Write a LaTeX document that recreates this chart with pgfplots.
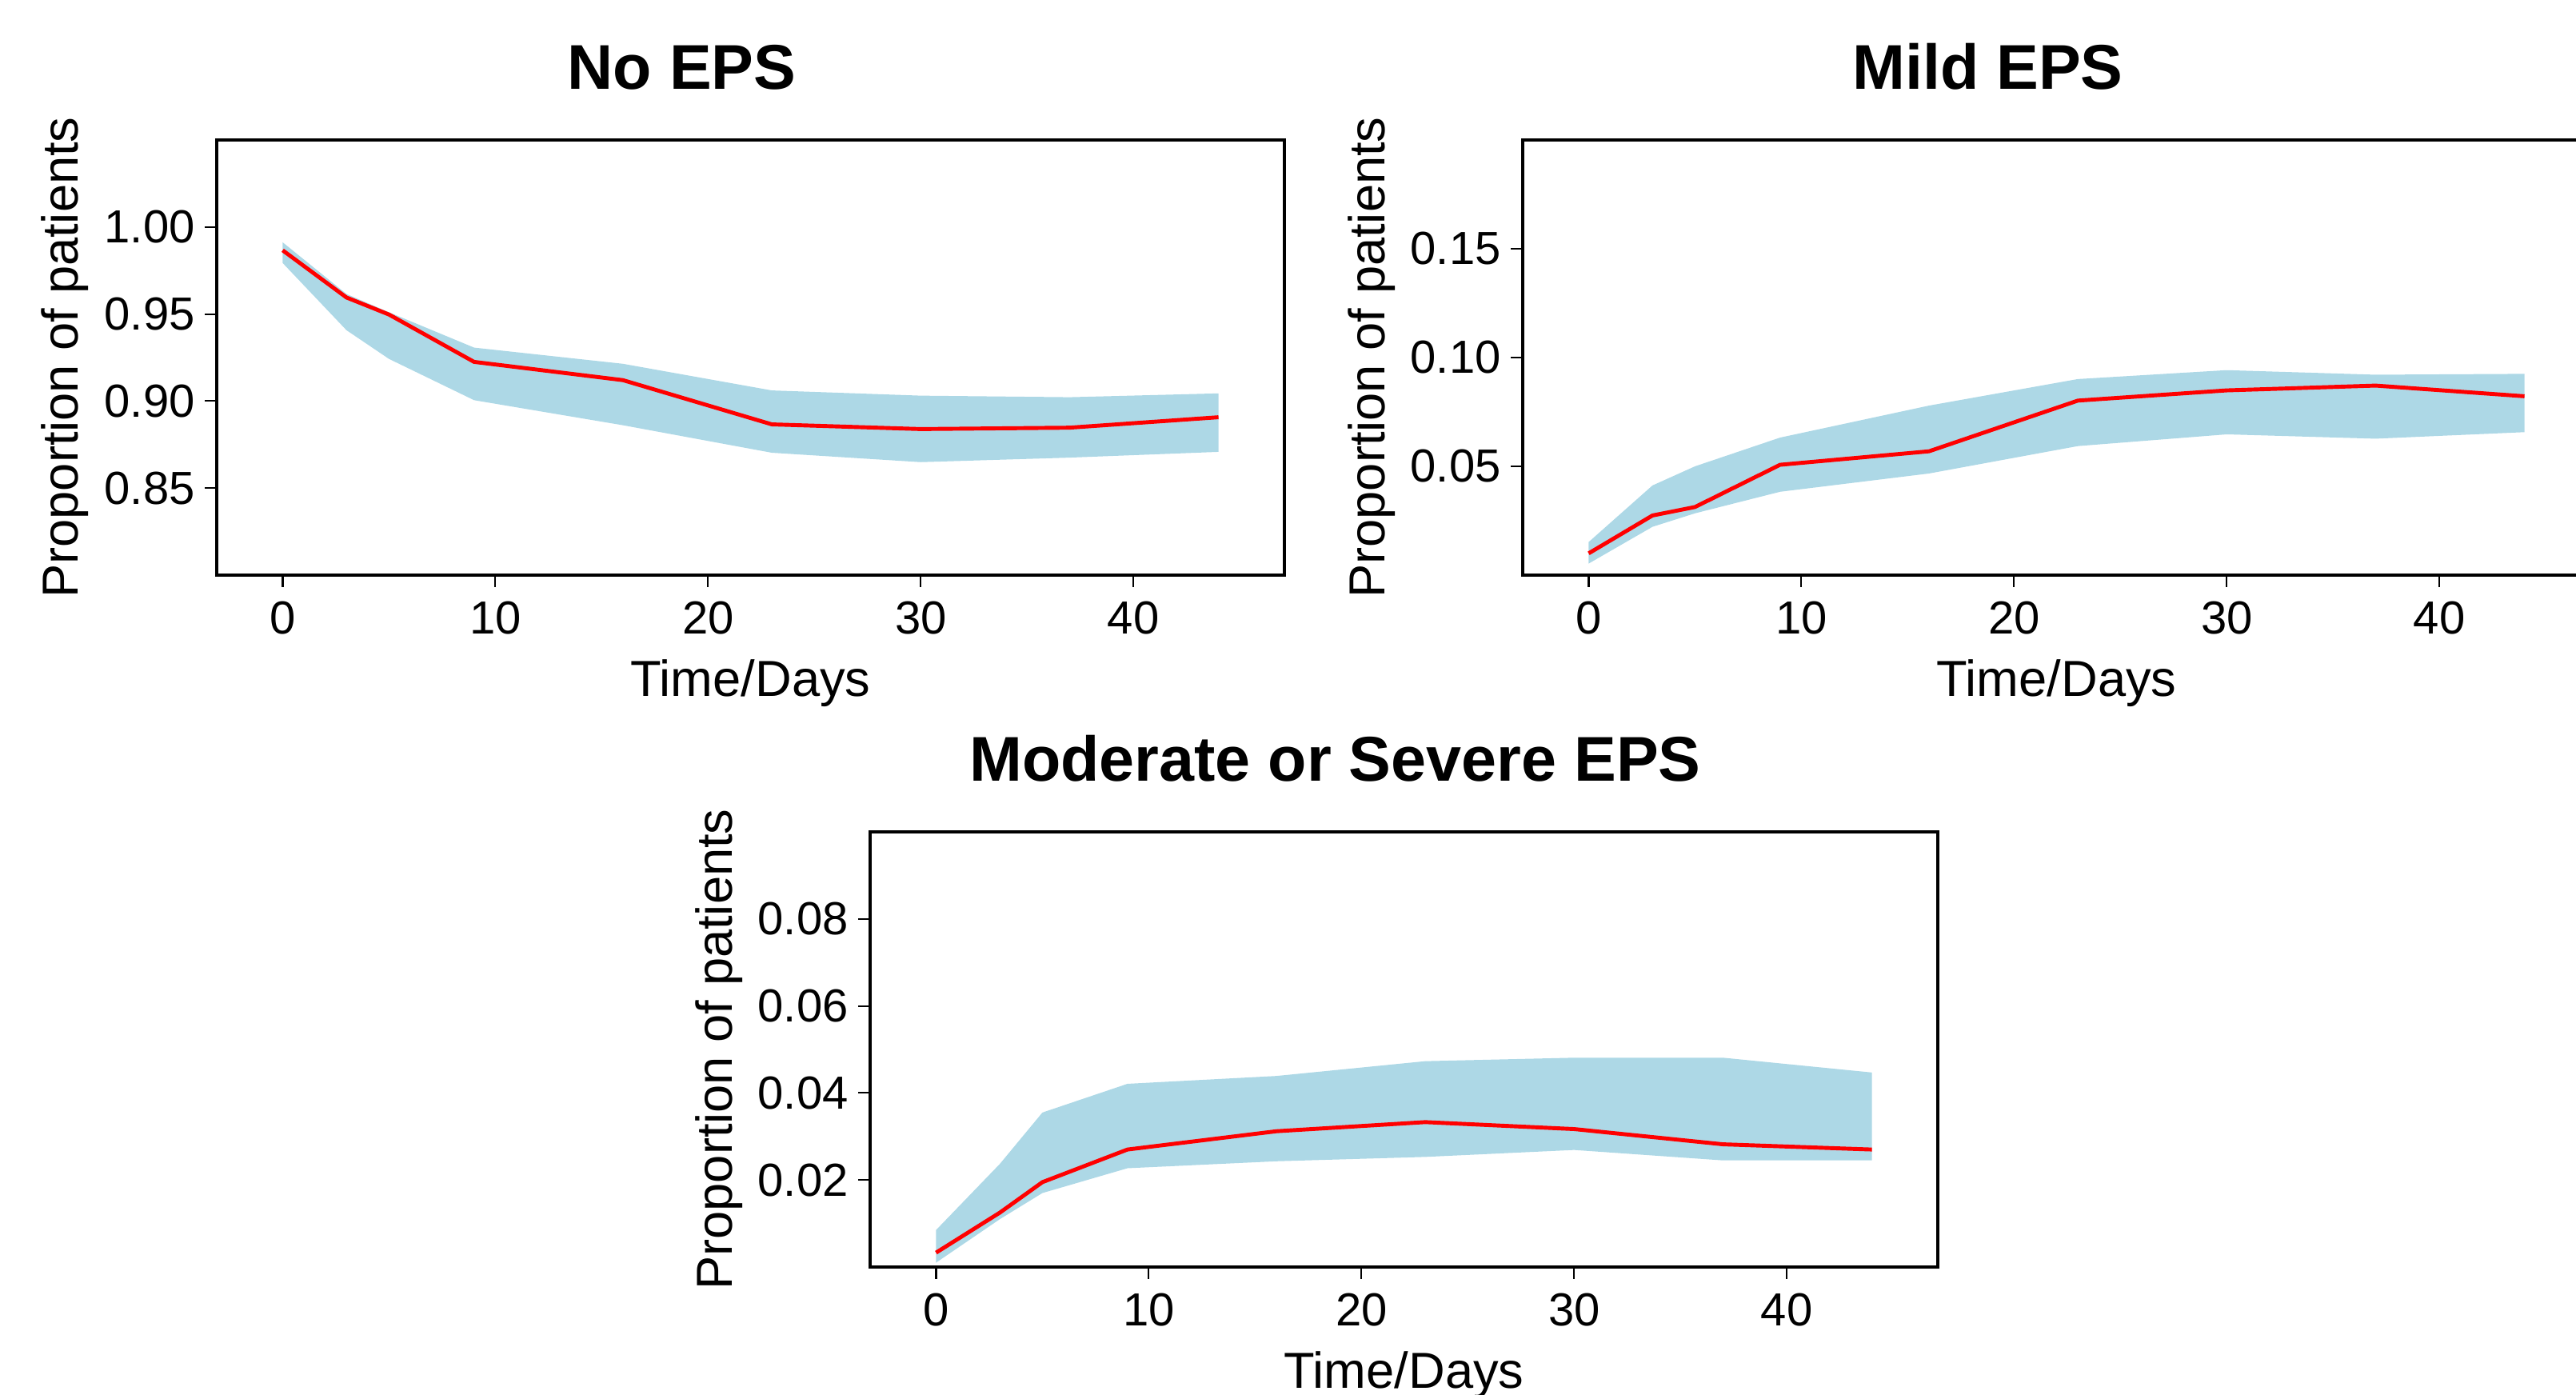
\documentclass[border=0pt]{standalone}
\usepackage{fontspec}
\setmainfont{Liberation Sans}
\usepackage{pgfplots}
\usepackage{pgfplotstable}
\pgfplotsset{compat=1.18}
\usepgfplotslibrary{fillbetween}

\definecolor{band}{HTML}{ADD8E6}

% day, mean, upper, lower
\pgfplotstableread{
x mean upper lower
0  0.9866 0.9912 0.9793
3  0.9595 0.9615 0.9407
5  0.9497 0.9510 0.9242
9  0.9225 0.9307 0.9005
16 0.9120 0.9214 0.8861
23 0.8866 0.9061 0.8703
30 0.8839 0.9031 0.8649
37 0.8847 0.9022 0.8675
44 0.8907 0.9044 0.8708
}\noeps

\pgfplotstableread{
x mean upper lower
0  0.0100 0.0152 0.0053
3  0.0274 0.0412 0.0222
5  0.0313 0.0500 0.0284
9  0.0507 0.0632 0.0383
16 0.0569 0.0779 0.0467
23 0.0802 0.0901 0.0593
30 0.0849 0.0942 0.0647
37 0.0871 0.0921 0.0627
44 0.0822 0.0925 0.0657
}\mildeps

\pgfplotstableread{
x mean upper lower
0  0.0033 0.0085 0.0010
3  0.0125 0.0237 0.0110
5  0.0195 0.0355 0.0170
9  0.0270 0.0421 0.0227
16 0.0312 0.0439 0.0243
23 0.0333 0.0473 0.0253
30 0.0317 0.0481 0.0269
37 0.0282 0.0481 0.0245
44 0.0270 0.0447 0.0245
}\severeeps

\pgfplotsset{
  eps/.style={
    scale only axis, width=13.35cm, height=5.44cm,
    xmin=-3.1, xmax=47.1,
    xtick={0,10,20,30,40},
    tick align=outside, tick pos=left,
    major tick length=0.15cm,
    axis line style={line width=0.9pt},
    every tick/.style={black, line width=0.6pt},
    /pgf/number format/assume math mode=true,
    yticklabel style={/pgf/number format/fixed, /pgf/number format/fixed zerofill, /pgf/number format/precision=2},
    xticklabel style={yshift=-0.06cm},
    ticklabel style={font=\fontsize{16.5}{19}\selectfont},
    label style={font=\fontsize{18}{21}\selectfont},
    every axis title/.style={font=\fontsize{22.5}{26}\selectfont\bfseries,
      at={(axis description cs:0.4356,1.1158)}, anchor=base},
    xlabel style={at={(axis description cs:0.5,-0.2794)}, anchor=base},
    ylabel style={at={(axis description cs:-0.1296,0.5)}, anchor=base},
    xlabel={Time/Days},
    ylabel={Proportion of patients},
  },
}

\newcommand{\epsband}[1]{%
  \addplot[name path=up, draw=none] table[x=x, y=upper] {#1};
  \addplot[name path=lo, draw=none] table[x=x, y=lower] {#1};
  \addplot[band, draw=none] fill between[of=up and lo];
  \addplot[red, line width=1.4pt] table[x=x, y=mean] {#1};
}

\begin{document}
\begin{tikzpicture}
\begin{axis}[eps, at={(2.71cm,10.25cm)}, anchor=south west,
  title={No EPS}, ymin=0.80, ymax=1.05,
  ytick={0.85,0.90,0.95,1.00}]
\epsband{\noeps}
\end{axis}

\begin{axis}[eps, at={(19.04cm,10.25cm)}, anchor=south west,
  title={Mild EPS}, ymin=0, ymax=0.2,
  ytick={0.05,0.10,0.15}]
\epsband{\mildeps}
\end{axis}

\begin{axis}[eps, at={(10.88cm,1.60cm)}, anchor=south west,
  title={Moderate or Severe EPS}, ymin=0, ymax=0.1,
  ytick={0.02,0.04,0.06,0.08}]
\epsband{\severeeps}
\end{axis}
\pgfresetboundingbox
\useasboundingbox (0,0) rectangle (32.21cm,17.44cm);
\end{tikzpicture}
\end{document}
